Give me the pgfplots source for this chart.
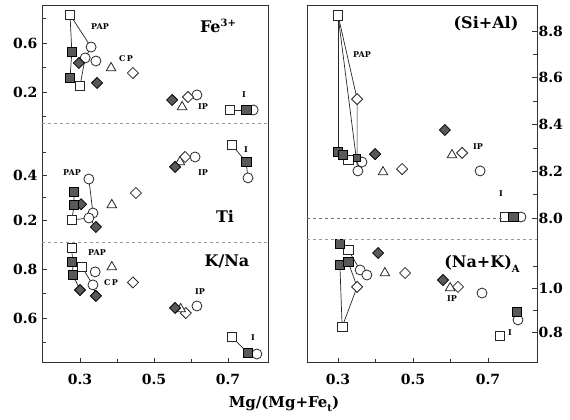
\documentclass[border=0pt]{standalone}
\usepackage{pgfplots}
\pgfplotsset{compat=1.18}
\usepackage{fontspec}
\setmainfont{DejaVu Serif}
\pgfplotsset{
  base/.style={scale only axis, clip=false, axis line style={draw=none},
    tick align=inside, major tick length=5pt, minor tick length=4pt,
    every tick/.style={black!80, line width=0.8pt},
    ticklabel style={font=\bfseries\fontsize{14}{16}\selectfont},
    /pgf/number format/fixed, /pgf/number format/fixed zerofill,
    /pgf/number format/precision=1, /pgf/number format/assume math mode=true},
  leftcol/.style={base, width=226pt, xmin=0.1973, xmax=0.8081, ytick pos=left,
    yticklabel style={xshift=-1pt}},
  rightcol/.style={base, width=230pt, xmin=0.2173, xmax=0.8307, ytick pos=right,
    yticklabel pos=right, yticklabel style={xshift=-2pt}},
  bottomx/.style={xtick={0.3,0.5,0.7}, minor xtick={0.4,0.6}, xtick pos=left,
    xticklabel style={yshift=-8pt}},
  tie/.style={no marks, black!85, line width=0.7pt},
  fsq/.style={only marks, mark=square*, mark size=4.8pt, mark options={fill=black!65, draw=black, line width=0.8pt}},
  osq/.style={only marks, mark=square*, mark size=4.8pt, mark options={fill=white, draw=black!85, line width=0.8pt}},
  ocirc/.style={only marks, mark=*, mark size=5pt, mark options={fill=white, draw=black!85, line width=0.8pt}},
  fdia/.style={only marks, mark=square*, mark size=3.9pt, mark options={rotate=45, fill=black!65, draw=black, line width=0.8pt}},
  odia/.style={only marks, mark=square*, mark size=3.9pt, mark options={rotate=45, fill=white, draw=black!85, line width=0.8pt}},
  otri/.style={only marks, mark=triangle*, mark size=5.5pt, mark options={fill=white, draw=black!85, line width=0.8pt}},
}
\begin{document}
\begin{tikzpicture}
\path (0,0) rectangle (570pt,420pt);
% ---------------- Fe3+ ----------------
\begin{axis}[leftcol, at={(42pt,297pt)}, anchor=south west, height=117pt,
  ymin=-0.053, ymax=0.902, xtick=\empty, ytick={0.2,0.6}, minor ytick={0,0.4,0.8}]
\addplot[tie] coordinates {(0.273,0.83) (0.330,0.567)};
\addplot[tie] coordinates {(0.273,0.83) (0.278,0.527) (0.273,0.314)};
\addplot[tie] coordinates {(0.330,0.567) (0.314,0.478) (0.300,0.249)};
\addplot[tie] coordinates {(0.705,0.053) (0.768,0.053)};
\addplot[ocirc] coordinates {(0.330,0.567) (0.314,0.478) (0.343,0.453) (0.616,0.176) (0.768,0.053)};
\addplot[osq] coordinates {(0.273,0.83) (0.300,0.249) (0.705,0.053)};
\addplot[odia] coordinates {(0.443,0.355) (0.592,0.159)};
\addplot[otri] coordinates {(0.384,0.396) (0.576,0.078)};
\addplot[fdia] coordinates {(0.297,0.437) (0.346,0.274) (0.549,0.135)};
\addplot[fsq] coordinates {(0.278,0.527) (0.273,0.314) (0.749,0.053)};
\end{axis}
% ---------------- Ti ----------------
\begin{axis}[leftcol, at={(42pt,178pt)}, anchor=south west, height=119pt,
  ymin=0.1022, ymax=0.631, xtick=\empty, ytick={0.2,0.4}, minor ytick={0.3,0.5}]
\addplot[tie] coordinates {(0.324,0.382) (0.335,0.231)};
\addplot[tie] coordinates {(0.278,0.20) (0.324,0.209) (0.343,0.169)};
\addplot[tie] coordinates {(0.284,0.324) (0.284,0.267) (0.278,0.20)};
\addplot[tie] coordinates {(0.711,0.533) (0.749,0.458) (0.754,0.387)};
\addplot[ocirc] coordinates {(0.324,0.382) (0.335,0.231) (0.324,0.209) (0.611,0.48) (0.754,0.387)};
\addplot[osq] coordinates {(0.278,0.20) (0.711,0.533)};
\addplot[odia] coordinates {(0.451,0.32) (0.584,0.48)};
\addplot[otri] coordinates {(0.386,0.267) (0.570,0.458)};
\addplot[fdia] coordinates {(0.303,0.27) (0.343,0.169) (0.557,0.436)};
\addplot[fsq] coordinates {(0.284,0.324) (0.284,0.267) (0.749,0.458)};
\end{axis}
% ---------------- K/Na ----------------
\begin{axis}[leftcol, bottomx, at={(42pt,57pt)}, anchor=south west, height=121pt,
  ymin=0.4163, ymax=0.910, ytick={0.6,0.8}, minor ytick={0.5,0.7}]
\addplot[tie] coordinates {(0.278,0.886) (0.281,0.776) (0.300,0.714)};
\addplot[tie] coordinates {(0.305,0.808) (0.335,0.735) (0.343,0.690)};
\addplot[tie] coordinates {(0.711,0.522) (0.754,0.457)};
\addplot[ocirc] coordinates {(0.341,0.788) (0.335,0.735) (0.616,0.649) (0.778,0.453)};
\addplot[osq] coordinates {(0.278,0.886) (0.305,0.808) (0.711,0.522)};
\addplot[odia] coordinates {(0.443,0.745) (0.586,0.620)};
\addplot[otri] coordinates {(0.386,0.808) (0.572,0.637)};
\addplot[fdia] coordinates {(0.300,0.714) (0.343,0.690) (0.557,0.641)};
\addplot[fsq] coordinates {(0.278,0.829) (0.281,0.776) (0.754,0.457)};
\end{axis}
% ---------------- Si+Al ----------------
\begin{axis}[rightcol, at={(307pt,181pt)}, anchor=south west, height=233pt,
  ymin=7.911, ymax=8.907, xtick=\empty, ytick={8.0,8.2,8.4,8.6,8.8}, minor ytick={8.1,8.3,8.5,8.7}]
\addplot[tie] coordinates {(0.300,8.868) (0.300,8.283)};
\addplot[tie] coordinates {(0.300,8.868) (0.351,8.509) (0.351,8.257)};
\addplot[tie] coordinates {(0.300,8.868) (0.353,8.202)};
\addplot[ocirc] coordinates {(0.353,8.202) (0.364,8.24) (0.679,8.202) (0.788,8.005)};
\addplot[osq] coordinates {(0.300,8.868) (0.327,8.249) (0.745,8.005)};
\addplot[odia] coordinates {(0.351,8.509) (0.471,8.21) (0.631,8.279)};
\addplot[otri] coordinates {(0.420,8.197) (0.604,8.27)};
\addplot[fdia] coordinates {(0.399,8.274) (0.585,8.377)};
\addplot[fsq] coordinates {(0.300,8.283) (0.313,8.270) (0.767,8.005)};
\addplot[fsq, mark size=3.5pt] coordinates {(0.351,8.257)};
\end{axis}
% ---------------- Na+K ----------------
\begin{axis}[rightcol, bottomx, at={(307pt,57pt)}, anchor=south west, height=124pt,
  ymin=0.659, ymax=1.2227, ytick={0.8,1.0}, minor ytick={0.9,1.1}]
\addplot[tie] coordinates {(0.311,0.823) (0.305,1.105)};
\addplot[tie] coordinates {(0.311,0.823) (0.351,1.005) (0.327,1.118)};
\addplot[tie] coordinates {(0.327,1.173) (0.359,1.082)};
\addplot[ocirc] coordinates {(0.359,1.082) (0.377,1.059) (0.684,0.977) (0.780,0.855)};
\addplot[osq] coordinates {(0.327,1.173) (0.311,0.823) (0.732,0.782)};
\addplot[odia] coordinates {(0.351,1.005) (0.479,1.068) (0.620,1.005)};
\addplot[otri] coordinates {(0.425,1.068) (0.599,1.000)};
\addplot[fdia] coordinates {(0.407,1.159) (0.580,1.036)};
\addplot[fsq] coordinates {(0.305,1.200) (0.305,1.105) (0.327,1.118) (0.777,0.891)};
\end{axis}
% ---------------- frames, separators and labels (pixel frame) ----------------
\begin{scope}[shift={(0pt,420pt)}, x=1pt, y=-1pt]
\draw[black!80, line width=1pt] (42,6) rectangle (268,363);
\draw[black!80, line width=1pt] (307,6) rectangle (537,363);
\draw[black!40, dashed, line width=0.7pt] (42,123) -- (268,123);
\draw[black!40, dashed, line width=0.7pt] (42,242) -- (268,242);
\draw[black!55, dashed, line width=0.7pt] (307,218) -- (505,218);
\draw[black!40, dashed, line width=0.7pt] (307,239) -- (537,239);
\begin{scope}[every node/.style={font=\bfseries\fontsize{8}{9}\selectfont, inner sep=0pt}]
\node at (100,27) {PAP};
\node at (126,59) {C\,P};
\node at (203,107) {IP};
\node at (244,95) {I};
\node at (72,173) {PAP};
\node at (203,173) {IP};
\node at (246,150) {I};
\node at (97,253) {PAP};
\node at (111,283) {C\,P};
\node at (200,292) {IP};
\node at (253,338) {I};
\node at (362,55) {PAP};
\node at (478,147) {IP};
\node at (501,194) {I};
\node at (452,299) {IP};
\node at (510,333) {I};
\end{scope}
\begin{scope}[every node/.style={font=\bfseries\fontsize{16}{18}\selectfont, inner sep=0pt}]
\node at (218,26) {Fe\raisebox{0.7ex}{\fontsize{10}{10}\selectfont 3+}};
\node at (225,216) {Ti};
\node at (227,261) {K/Na};
\node at (486,24) {(Si+Al)};
\node at (482,264) {(Na+K)\raisebox{-0.5ex}{\fontsize{10}{10}\selectfont A}};
\node[font=\bfseries\fontsize{15}{17}\selectfont] at (284,404) {Mg/(Mg+Fe\raisebox{-0.5ex}{\fontsize{10}{10}\selectfont t})};
\end{scope}
\end{scope}
\end{tikzpicture}
\end{document}
